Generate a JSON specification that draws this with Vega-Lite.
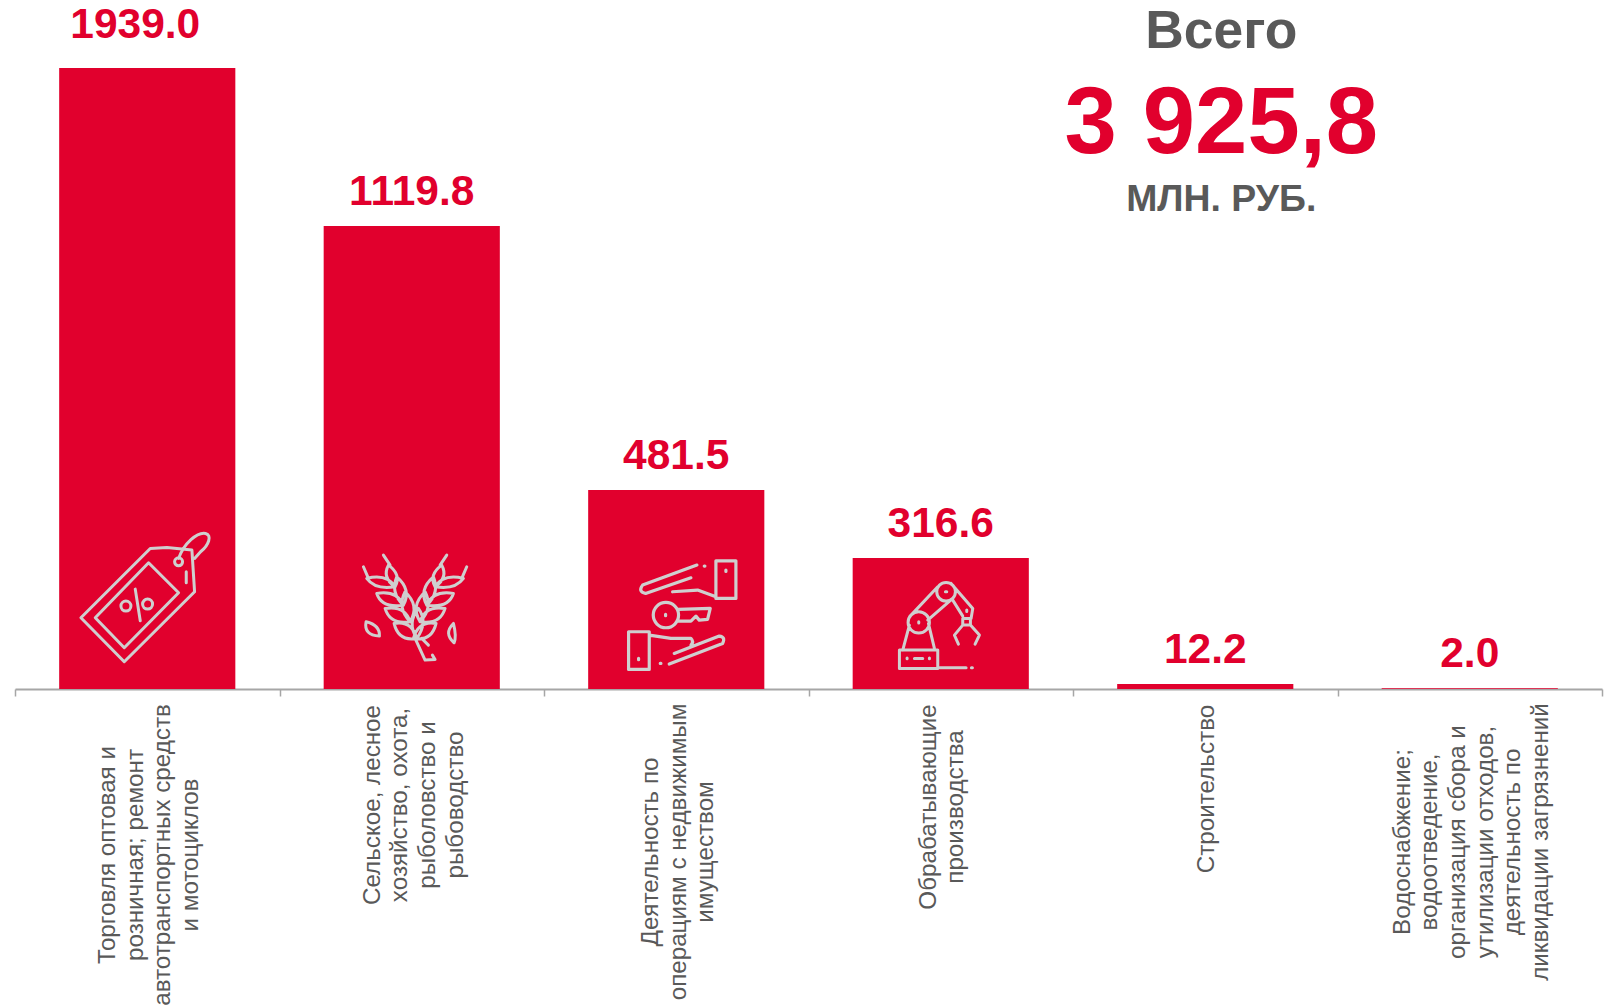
{"$schema":"https://vega.github.io/schema/vega-lite/v6.json","width":1587,"height":621,"autosize":{"type":"none"},"padding":{"left":15,"top":68,"right":2,"bottom":317},"background":"white","config":{"view":{"stroke":null},"text":{"font":"Liberation Sans"}},"data":{"values":[{"category":"Торговля оптовая и|розничная; ремонт|автотранспортных средств|и мотоциклов","value":1939.0,"icon":"tag"},{"category":"Сельское, лесное|хозяйство, охота,|рыболовство и|рыбоводство","value":1119.8,"icon":"wheat"},{"category":"Деятельность по|операциям с недвижимым|имуществом","value":481.5,"icon":"hands"},{"category":"Обрабатывающие|производства","value":316.6,"icon":"robot"},{"category":"Строительство","value":12.2,"icon":"build"},{"category":"Водоснабжение;|водоотведение,|организация сбора и|утилизации отходов,|деятельность по|ликвидации загрязнений","value":2.0,"icon":"water"}]},"encoding":{"x":{"field":"category","type":"nominal","sort":null,"scale":{"paddingInner":0,"paddingOuter":0},"axis":{"title":null,"labels":false,"domainColor":"#a6a6a6","domainWidth":2,"tickColor":"#a6a6a6","tickWidth":1.5,"tickSize":7,"tickBand":"extent"}},"y":{"field":"value","type":"quantitative","scale":{"domain":[0,1502],"clamp":true,"nice":false,"zero":true},"axis":null}},"layer":[{"mark":{"type":"bar","color":"#E1002D","cornerRadius":0,"width":{"band":0.666}}},{"transform":[{"filter":"datum.value<1900"}],"mark":{"type":"text","color":"#E1002D","fontWeight":"bold","fontSize":42.5,"baseline":"alphabetic","dy":-21},"encoding":{"text":{"field":"value","type":"quantitative","format":".1f"}}},{"transform":[{"filter":"datum.value>=1900"}],"mark":{"type":"text","color":"#E1002D","fontWeight":"bold","fontSize":42.5,"baseline":"alphabetic","dy":-30,"dx":-12},"encoding":{"text":{"field":"value","type":"quantitative","format":".1f"}}},{"transform":[{"filter":"datum.icon=='build'"}],"mark":{"type":"text","color":"#595959","fontWeight":"bold","fontSize":53.4,"baseline":"alphabetic","dx":16,"dy":-20},"encoding":{"y":{"datum":1502},"text":{"value":"Всего"}}},{"transform":[{"filter":"datum.icon=='build'"}],"mark":{"type":"text","color":"#E1002D","fontWeight":"bold","fontSize":94,"baseline":"alphabetic","dx":16,"dy":85},"encoding":{"y":{"datum":1502},"text":{"value":"3 925,8"}}},{"transform":[{"filter":"datum.icon=='build'"}],"mark":{"type":"text","color":"#595959","fontWeight":"bold","fontSize":37.4,"baseline":"alphabetic","dx":16,"dy":143},"encoding":{"y":{"datum":1502},"text":{"value":"МЛН. РУБ."}}},{"transform":[{"filter":"datum.icon=='tag'"}],"mark":{"type":"text","angle":270,"align":"center","baseline":"middle","lineBreak":"|","lineHeight":27.6,"fontSize":24.2,"color":"#595959","dx":-166,"dy":-39},"encoding":{"y":{"datum":0},"text":{"field":"category"}}},{"transform":[{"filter":"datum.icon=='wheat'"}],"mark":{"type":"text","angle":270,"align":"center","baseline":"middle","lineBreak":"|","lineHeight":27.6,"fontSize":24.2,"color":"#595959","dx":-116,"dy":-39},"encoding":{"y":{"datum":0},"text":{"field":"category"}}},{"transform":[{"filter":"datum.icon=='hands'"}],"mark":{"type":"text","angle":270,"align":"center","baseline":"middle","lineBreak":"|","lineHeight":27.6,"fontSize":24.2,"color":"#595959","dx":-163,"dy":-25},"encoding":{"y":{"datum":0},"text":{"field":"category"}}},{"transform":[{"filter":"datum.icon=='robot'"}],"mark":{"type":"text","angle":270,"align":"center","baseline":"middle","lineBreak":"|","lineHeight":27.6,"fontSize":24.2,"color":"#595959","dx":-118,"dy":-12},"encoding":{"y":{"datum":0},"text":{"field":"category"}}},{"transform":[{"filter":"datum.icon=='build'"}],"mark":{"type":"text","angle":270,"align":"center","baseline":"middle","lineBreak":"|","lineHeight":27.6,"fontSize":24.2,"color":"#595959","dx":-100,"dy":2},"encoding":{"y":{"datum":0},"text":{"field":"category"}}},{"transform":[{"filter":"datum.icon=='water'"}],"mark":{"type":"text","angle":270,"align":"center","baseline":"middle","lineBreak":"|","lineHeight":27.6,"fontSize":24.2,"color":"#595959","dx":-153,"dy":-67},"encoding":{"y":{"datum":0},"text":{"field":"category"}}},{"transform":[{"filter":"datum.icon=='tag'"}],"mark":{"type":"point","filled":false,"stroke":"#cfcfcf","strokeWidth":3,"opacity":1,"size":0.4444,"strokeCap":"round","strokeJoin":"round","shape":"M9 -155 L59 -158 L134 -150 L142 -25 L-69 185 L-199 53 Z M4 -112 L94 -22 L-69 143 L-156 53 Z M-36 -33 L-21 62 M-79 18 a15 15 0 1 0 30 0 a15 15 0 1 0 -30 0 Z M-14 12 a15 15 0 1 0 30 0 a15 15 0 1 0 -30 0 Z M82 -115 a12 12 0 1 0 24 0 a12 12 0 1 0 -24 0 Z M94 -125 C110 -170 150 -205 175 -200 C195 -195 185 -165 160 -145 L142 -125 M117 -85 L117 -52"},"encoding":{"y":{"datum":215}}},{"transform":[{"filter":"datum.icon=='wheat'"}],"mark":{"type":"point","filled":false,"stroke":"#cfcfcf","strokeWidth":3,"opacity":1,"size":0.4444,"strokeCap":"round","strokeJoin":"round","shape":"M15 115 Q-40 125 -53 70 Q0 60 15 115 M-5 65 Q-65 75 -80 25 Q-20 15 -5 65 M-25 15 Q-90 25 -105 -20 Q-45 -30 -25 15 M-50 -40 Q-110 -30 -135 -65 Q-75 -80 -50 -40 M15 115 Q50 67 20 25 Q-15 67 15 115 M-5 65 Q25 17 -20 -25 Q-45 23 -5 65 M-25 15 Q0 -32 -45 -70 Q-65 -22 -25 15 M-50 -40 Q-30 -76 -70 -105 Q-90 -68 -50 -40 M-85 -135 L-65 -105 M-145 -100 L-130 -65 M5 115 Q60 125 73 70 Q20 60 5 115 M25 65 Q85 75 100 25 Q40 15 25 65 M45 15 Q110 25 125 -20 Q65 -30 45 15 M70 -40 Q130 -30 155 -65 Q95 -80 70 -40 M25 65 Q-5 17 40 -25 Q65 23 25 65 M45 15 Q20 -32 65 -70 Q85 -22 45 15 M70 -40 Q50 -76 90 -105 Q110 -68 70 -40 M105 -135 L85 -105 M165 -100 L150 -65 M10 115 L40 180 L70 178 L62 165 M30 115 L50 135 M-137 65 Q-145 105 -97 108 Q-95 75 -137 65 M125 70 Q95 100 127 128 Q135 110 125 70"},"encoding":{"y":{"datum":215}}},{"transform":[{"filter":"datum.icon=='hands'"}],"mark":{"type":"point","filled":false,"stroke":"#cfcfcf","strokeWidth":3.2,"opacity":1,"size":0.4444,"strokeCap":"round","strokeJoin":"round","shape":"M119 -118 L179 -118 L179 -5 L119 -5 Z M149 -90 L149 -86 M62 -105 L-101 -45 Q-116 -25 -92 -20 L44 -67 M-11 -25 L64 -30 L119 -10 M84 -102 L86 -102 M-143 95 L-81 95 L-81 208 L-143 208 Z M-113 175 L-113 179 M-21 192 L139 130 Q149 110 129 108 L-6 160 M-81 105 L-16 115 L44 115 Q54 125 44 135 M-48 190 L-46 190 M6 28 L102 25 L94 58 L69 60 L59 48 L44 63 L6 63 M-69 45 a38 38 0 1 0 76 0 a38 38 0 1 0 -76 0 Z M-32 43 L-32 47"},"encoding":{"y":{"datum":215}}},{"transform":[{"filter":"datum.icon=='robot'"}],"mark":{"type":"point","filled":false,"stroke":"#cfcfcf","strokeWidth":3,"opacity":1,"size":0.4444,"strokeCap":"round","strokeJoin":"round","shape":"M-124 150 L-9 150 L-9 205 L-124 205 Z M-9 203 L76 203 M92 203 L95 203 M-101 174 L-101 176 M-34 174 L-34 176 M-79 175 L-54 175 M-114 150 L-94 75 M-19 145 L-37 70 M-98 67 a32 32 0 1 0 64 0 a32 32 0 1 0 -64 0 Z M-66 65 L-66 69 M-12 -25 a28 28 0 1 0 56 0 a28 28 0 1 0 -56 0 Z M14 -25 L18 -25 M-89 45 L-9 -40 M-39 60 L36 -5 M31 -50 L96 25 L91 55 M36 0 L66 48 M66 55 L89 55 L89 75 L66 75 Z M78 30 L78 34 M66 75 L41 105 L53 132 M89 75 L116 105 L103 132"},"encoding":{"y":{"datum":215}}}]}
